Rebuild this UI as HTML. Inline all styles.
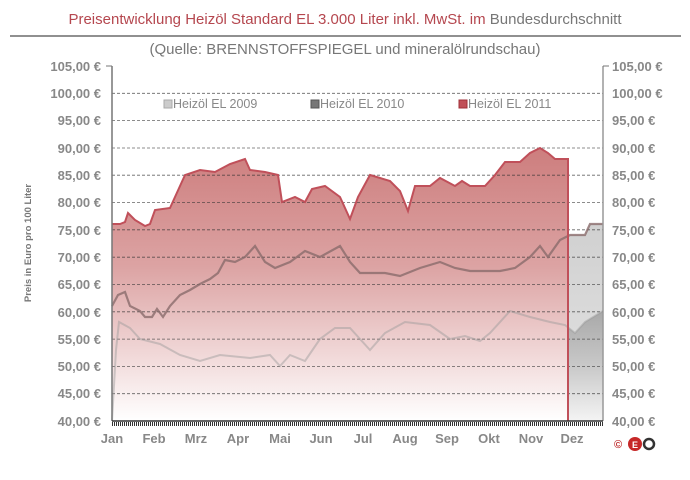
<!DOCTYPE html>
<html><head><meta charset="utf-8"><style>
body{margin:0;background:#fff;width:690px;height:475px;overflow:hidden}
svg text{font-family:"Liberation Sans","DejaVu Sans",sans-serif}
</style></head><body>
<svg width="690" height="475" viewBox="0 0 690 475" xmlns="http://www.w3.org/2000/svg">
<defs>
<linearGradient id="rg" x1="0" y1="140" x2="0" y2="421" gradientUnits="userSpaceOnUse">
<stop offset="0" stop-color="#cc7b7b"/><stop offset="0.45" stop-color="#dca3a3"/><stop offset="0.8" stop-color="#f3dede"/><stop offset="1" stop-color="#ffffff"/>
</linearGradient>
<linearGradient id="gg" x1="0" y1="220" x2="0" y2="421" gradientUnits="userSpaceOnUse">
<stop offset="0" stop-color="#d0d0d0"/><stop offset="0.6" stop-color="#dcdcdc"/><stop offset="1" stop-color="#fafafa"/>
</linearGradient>
<linearGradient id="gg2" x1="0" y1="310" x2="0" y2="421" gradientUnits="userSpaceOnUse">
<stop offset="0" stop-color="#a8a8a8"/><stop offset="0.5" stop-color="#c8c8c8"/><stop offset="1" stop-color="#f4f4f4"/>
</linearGradient>
</defs>
<text x="345" y="24" font-size="15" text-anchor="middle" fill="#b5474f">Preisentwicklung Heizöl Standard EL 3.000 Liter inkl. MwSt. im <tspan fill="#777">Bundesdurchschnitt</tspan></text>
<line x1="10" y1="36" x2="681" y2="36" stroke="#222" stroke-width="1"/>
<text x="345" y="54" font-size="15" text-anchor="middle" fill="#777">(Quelle: BRENNSTOFFSPIEGEL  und mineralölrundschau)</text>

<!-- gray areas beyond Nov -->
<path d="M565 421 L565 241 L570 235 L585 235 L590 224 L603 224 L603 421 Z" fill="url(#gg)"/>
<path d="M565 421 L565 325 L575 333 L585 322 L603 311 L603 421 Z" fill="url(#gg2)"/>
<!-- 2011 area -->
<path d="M112 421 L112 224 L120 224 L125 222 L128 213 L135 220 L145 226 L150 224 L155 210 L170 208 L175 197 L185 175 L200 170 L215 172 L230 164 L245 159 L250 170 L265 172 L278 175 L282 202 L295 197 L305 202 L312 189 L325 186 L340 197 L350 219 L358 197 L370 175 L390 181 L400 191 L408 211 L415 186 L430 186 L440 178 L455 186 L462 181 L470 186 L485 186 L495 175 L505 162 L520 162 L530 153 L540 148 L548 153 L555 159 L568 159 L568 421 Z" fill="url(#rg)"/>

<g stroke="#333" stroke-width="0.8" stroke-dasharray="3,2" opacity="0.75">
<line x1="112" x2="603" y1="93.3" y2="93.3"/><line x1="112" x2="603" y1="120.6" y2="120.6"/>
<line x1="112" x2="603" y1="148" y2="148"/><line x1="112" x2="603" y1="175.2" y2="175.2"/>
<line x1="112" x2="603" y1="202.5" y2="202.5"/><line x1="112" x2="603" y1="229.8" y2="229.8"/>
<line x1="112" x2="603" y1="257.2" y2="257.2"/><line x1="112" x2="603" y1="284.5" y2="284.5"/>
<line x1="112" x2="603" y1="311.8" y2="311.8"/><line x1="112" x2="603" y1="339.1" y2="339.1"/>
<line x1="112" x2="603" y1="366.4" y2="366.4"/><line x1="112" x2="603" y1="393.7" y2="393.7"/>
</g>

<!-- 2009 line -->
<path d="M112 421 L116 350 L119 322 L130 328 L140 339 L160 344 L180 355 L200 361 L220 355 L250 358 L270 355 L280 366 L290 355 L305 361 L320 339 L335 328 L350 328 L370 350 L385 333 L405 322 L430 325 L450 339 L465 336 L480 341 L490 333 L510 311 L530 317 L550 322 L565 325 L575 333 L585 322 L603 311" fill="none" stroke="#999" stroke-width="2" opacity="0.45"/>
<!-- 2010 line -->
<path d="M112 306 L118 295 L125 292 L130 306 L140 311 L145 317 L152 317 L157 309 L163 317 L170 306 L180 295 L190 290 L200 284 L210 279 L218 273 L225 260 L235 262 L245 257 L255 246 L265 262 L275 268 L290 262 L305 251 L320 257 L340 246 L350 262 L360 273 L385 273 L400 276 L420 268 L440 262 L455 268 L470 271 L500 271 L515 268 L530 257 L540 246 L548 257 L560 240 L570 235 L585 235 L590 224 L603 224" fill="none" stroke="#8a6c6c" stroke-width="2.2" opacity="0.8"/>
<!-- 2011 line -->
<path d="M112 224 L120 224 L125 222 L128 213 L135 220 L145 226 L150 224 L155 210 L170 208 L175 197 L185 175 L200 170 L215 172 L230 164 L245 159 L250 170 L265 172 L278 175 L282 202 L295 197 L305 202 L312 189 L325 186 L340 197 L350 219 L358 197 L370 175 L390 181 L400 191 L408 211 L415 186 L430 186 L440 178 L455 186 L462 181 L470 186 L485 186 L495 175 L505 162 L520 162 L530 153 L540 148 L548 153 L555 159 L568 159 L568 421" fill="none" stroke="#c0505a" stroke-width="2"/>

<line x1="112" y1="66" x2="112" y2="421" stroke="#777" stroke-width="1.5"/>
<line x1="603" y1="66" x2="603" y2="421" stroke="#999" stroke-width="1.5"/>
<line x1="112" y1="421" x2="603" y2="421" stroke="#333" stroke-width="1.5"/>
<line x1="112" y1="424" x2="603" y2="424" stroke="#333" stroke-width="4" stroke-dasharray="1,1"/>

<g font-size="13" font-weight="bold" fill="#888" text-anchor="end">
<text x="101" y="71">105,00 €</text><text x="101" y="98">100,00 €</text><text x="101" y="125">95,00 €</text>
<text x="101" y="153">90,00 €</text><text x="101" y="180">85,00 €</text><text x="101" y="207">80,00 €</text>
<text x="101" y="235">75,00 €</text><text x="101" y="262">70,00 €</text><text x="101" y="289">65,00 €</text>
<text x="101" y="317">60,00 €</text><text x="101" y="344">55,00 €</text><text x="101" y="371">50,00 €</text>
<text x="101" y="398">45,00 €</text><text x="101" y="426">40,00 €</text>
</g>
<g font-size="13" font-weight="bold" fill="#888" text-anchor="start">
<text x="612" y="71">105,00 €</text><text x="612" y="98">100,00 €</text><text x="612" y="125">95,00 €</text>
<text x="612" y="153">90,00 €</text><text x="612" y="180">85,00 €</text><text x="612" y="207">80,00 €</text>
<text x="612" y="235">75,00 €</text><text x="612" y="262">70,00 €</text><text x="612" y="289">65,00 €</text>
<text x="612" y="317">60,00 €</text><text x="612" y="344">55,00 €</text><text x="612" y="371">50,00 €</text>
<text x="612" y="398">45,00 €</text><text x="612" y="426">40,00 €</text>
</g>
<g stroke="#777"><line x1="106" x2="112" y1="66" y2="66"/><line x1="603" x2="609" y1="66" y2="66"/></g>
<text transform="translate(31,243) rotate(-90)" font-size="9.5" font-weight="bold" fill="#777" text-anchor="middle">Preis in Euro pro 100 Liter</text>

<g font-size="13" font-weight="bold" fill="#888" text-anchor="middle">
<text x="112" y="443">Jan</text><text x="154" y="443">Feb</text><text x="196" y="443">Mrz</text>
<text x="238" y="443">Apr</text><text x="280" y="443">Mai</text><text x="321" y="443">Jun</text>
<text x="363" y="443">Jul</text><text x="405" y="443">Aug</text><text x="447" y="443">Sep</text>
<text x="489" y="443">Okt</text><text x="531" y="443">Nov</text><text x="572" y="443">Dez</text>
</g>

<g font-size="12.5" fill="#888">
<rect x="164" y="100" width="8" height="8" fill="#ccc" stroke="#aaa"/><text x="173" y="108">Heizöl EL 2009</text>
<rect x="311" y="100" width="8" height="8" fill="#777" stroke="#555"/><text x="320" y="108">Heizöl EL 2010</text>
<rect x="459" y="100" width="8" height="8" fill="#c05058" stroke="#a03038"/><text x="468" y="108">Heizöl EL 2011</text>
</g>

<text x="614" y="448" font-size="11" font-weight="bold" fill="#c03030">©</text>
<circle cx="635" cy="444" r="7" fill="#c62828"/>
<text x="635" y="448" font-size="9" font-weight="bold" fill="#fff" text-anchor="middle">E</text>
<circle cx="649" cy="444" r="5" fill="none" stroke="#333" stroke-width="2.5"/>
</svg>
</body></html>
